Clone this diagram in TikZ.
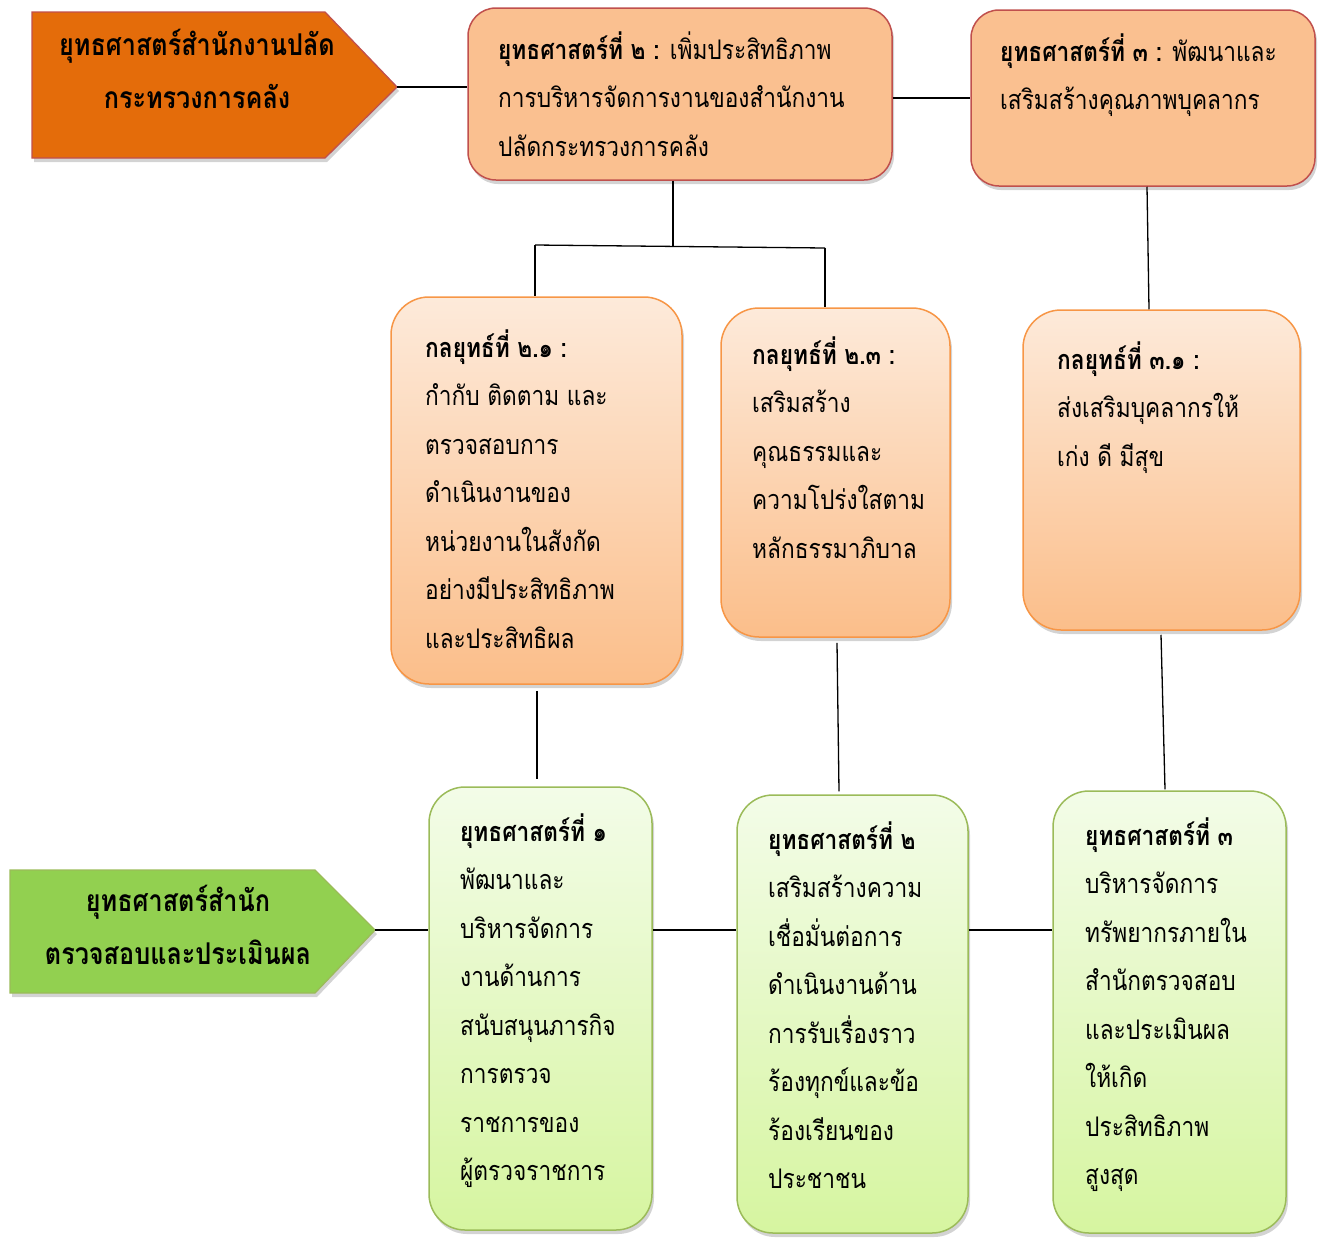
\documentclass[tikz,border=0pt]{standalone}
\usepackage{fontspec}
\newfontfamily\thaifont[Script=Thai,FakeStretch=0.84]{Loma}
\usetikzlibrary{shadows,calc}
\definecolor{orangeFill}{HTML}{E46C0A}
\definecolor{redBorder}{HTML}{C0504D}
\definecolor{peach}{HTML}{FAC090}
\definecolor{midTop}{HTML}{FDEADA}
\definecolor{midBot}{HTML}{FBBE8A}
\definecolor{midBorder}{HTML}{F79646}
\definecolor{greenFill}{HTML}{92D050}
\definecolor{greenBorder}{HTML}{9BBB59}
\definecolor{greenTop}{HTML}{F3FCE8}
\definecolor{greenBot}{HTML}{D6F5A0}
\tikzset{
  shd/.style={drop shadow={shadow xshift=2pt,shadow yshift=-4pt,opacity=0.35}},
  topbox/.style={draw=redBorder,line width=1.5pt,fill=peach,rounded corners=28pt,shd,inner sep=0},
  midbox/.style={draw=midBorder,line width=1.5pt,top color=midTop,bottom color=midBot,rounded corners=38pt,shd,inner sep=0},
  grnbox/.style={draw=greenBorder,line width=1.5pt,top color=greenTop,bottom color=greenBot,rounded corners=36pt,shd,inner sep=0},
  txt/.style={inner sep=0,anchor=north west,align=left,font=\thaifont\fontsize{27}{48.5}\selectfont},
  ctxt/.style={inner sep=0,anchor=north,align=center,font=\thaifont\bfseries\fontsize{30}{53}\selectfont},
  conn/.style={line width=1.3pt,black}
}
\begin{document}
\begin{tikzpicture}[x=1pt,y=-1pt]
\useasboundingbox (0,0) rectangle (1319,1237);
% orange pentagon arrow
\coordinate (otip) at (397,87);
\filldraw[fill=orangeFill,draw=redBorder,line width=1.3pt,shd] (32,12) -- (325,12) -- (otip) -- (325,158) -- (32,158) -- cycle;
\node[ctxt] (otext) at (197,{55-37.1}) {\strut ยุทธศาสตร์สำนักงานปลัด\\\strut กระทรวงการคลัง};
% green pentagon arrow
\coordinate (gtip) at (375,930);
\filldraw[fill=greenFill,draw=greenBorder,line width=1.3pt,shd] (10,870) -- (315,870) -- (gtip) -- (315,993) -- (10,993) -- cycle;
\node[ctxt] (gtext) at (178,{911-37.1}) {\strut ยุทธศาสตร์สำนัก\\\strut ตรวจสอบและประเมินผล};
% top boxes
\node[topbox,minimum width=424pt,minimum height=172pt] (b2) at (680,94) {};
\node[topbox,minimum width=344pt,minimum height=176pt] (b3) at (1143,98) {};
\node[txt] (b2t) at (498,{59-33.95}) {\strut{\bfseries ยุทธศาสตร์ที่ ๒ :} เพิ่มประสิทธิภาพ\\\strut การบริหารจัดการงานของสำนักงาน\\\strut ปลัดกระทรวงการคลัง};
\node[txt] (b3t) at (1000,{61-33.95}) {\strut{\bfseries ยุทธศาสตร์ที่ ๓ :} พัฒนาและ\\\strut เสริมสร้างคุณภาพบุคลากร};
% middle boxes
\node[midbox,minimum width=291pt,minimum height=387pt] (m21) at (536.5,490.5) {};
\node[midbox,minimum width=229pt,minimum height=329pt] (m23) at (835.5,472.5) {};
\node[midbox,minimum width=277pt,minimum height=320pt] (m31) at (1161.5,470) {};
\node[txt] (m21t) at (425,{357-33.95}) {\strut{\bfseries กลยุทธ์ที่ ๒.๑ :}\\\strut กำกับ ติดตาม และ\\\strut ตรวจสอบการ\\\strut ดำเนินงานของ\\\strut หน่วยงานในสังกัด\\\strut อย่างมีประสิทธิภาพ\\\strut และประสิทธิผล};
\node[txt] (m23t) at (752,{364-33.95}) {\strut{\bfseries กลยุทธ์ที่ ๒.๓ :}\\\strut เสริมสร้าง\\\strut คุณธรรมและ\\\strut ความโปร่งใสตาม\\\strut หลักธรรมาภิบาล};
\node[txt] (m31t) at (1057,{369-33.95}) {\strut{\bfseries กลยุทธ์ที่ ๓.๑ :}\\\strut ส่งเสริมบุคลากรให้\\\strut เก่ง ดี มีสุข};
% green boxes
\node[grnbox,minimum width=223pt,minimum height=443pt] (g1) at (540.5,1008.5) {};
\node[grnbox,minimum width=231pt,minimum height=438pt] (g2) at (852.5,1014) {};
\node[grnbox,minimum width=233pt,minimum height=442pt] (g3) at (1169.5,1012) {};
\node[txt] (g1t) at (460,{841-33.95}) {\strut{\bfseries ยุทธศาสตร์ที่ ๑}\\\strut พัฒนาและ\\\strut บริหารจัดการ\\\strut งานด้านการ\\\strut สนับสนุนภารกิจ\\\strut การตรวจ\\\strut ราชการของ\\\strut ผู้ตรวจราชการ};
\node[txt] (g2t) at (768,{849-33.95}) {\strut{\bfseries ยุทธศาสตร์ที่ ๒}\\\strut เสริมสร้างความ\\\strut เชื่อมั่นต่อการ\\\strut ดำเนินงานด้าน\\\strut การรับเรื่องราว\\\strut ร้องทุกข์และข้อ\\\strut ร้องเรียนของ\\\strut ประชาชน};
\node[txt] (g3t) at (1085,{845-33.95}) {\strut{\bfseries ยุทธศาสตร์ที่ ๓}\\\strut บริหารจัดการ\\\strut ทรัพยากรภายใน\\\strut สำนักตรวจสอบ\\\strut และประเมินผล\\\strut ให้เกิด\\\strut ประสิทธิภาพ\\\strut สูงสุด};
% connectors
\coordinate (j1) at (673,247);
\coordinate (j2) at (535,245);
\coordinate (j3) at (825,248);
\draw[conn] (otip) -- (otip -| b2.west);
\draw[conn] (b2.east |- b3.west) -- (b3.west);
\draw[conn] (b2.south -| j1) -- (j1);
\draw[conn] (j2) -- (j3);
\draw[conn] (j2) -- (j2 |- m21.north);
\draw[conn] (j3) -- (j3 |- m23.north);
\draw[conn] ($(b3.south)+(4,0)$) -- ($(m31.north)+(-12.5,0)$);
\draw[conn] ($(m21.south)+(0.5,6)$) -- ($(g1.north)+(-3.5,-7)$);
\draw[conn] ($(m23.south)+(1.5,5)$) -- ($(g2.north)+(-13.5,-3)$);
\draw[conn] ($(m31.south)+(-0.5,4)$) -- ($(g3.north)+(-4.5,-1)$);
\draw[conn] (gtip) -- (gtip -| g1.west);
\draw[conn] (g1.east |- gtip) -- (gtip -| g2.west);
\draw[conn] (g2.east |- gtip) -- (gtip -| g3.west);
\end{tikzpicture}
\end{document}
